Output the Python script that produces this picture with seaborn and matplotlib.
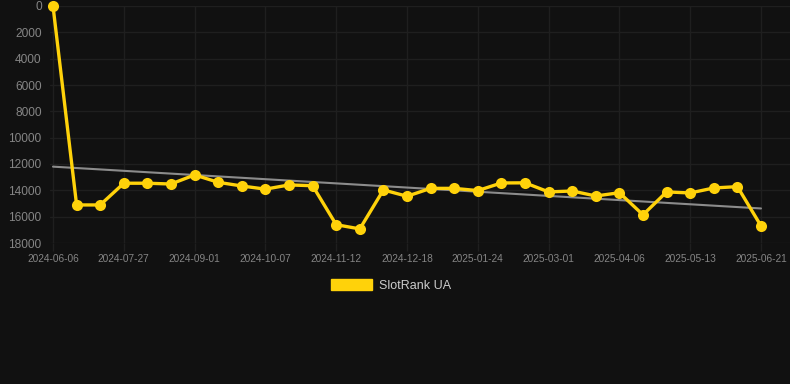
import matplotlib
matplotlib.use("Agg")
import matplotlib.pyplot as plt
from matplotlib.patches import Patch
import seaborn as sns
import numpy as np
import pandas as pd

dates = ["2024-06-06", "2024-06-23", "2024-07-10", "2024-07-27", "2024-08-08",
         "2024-08-20", "2024-09-01", "2024-09-13", "2024-09-25", "2024-10-07",
         "2024-10-19", "2024-10-31", "2024-11-12", "2024-11-24", "2024-12-06",
         "2024-12-18", "2024-12-30", "2025-01-11", "2025-01-24", "2025-02-05",
         "2025-02-17", "2025-03-01", "2025-03-13", "2025-03-25", "2025-04-06",
         "2025-04-18", "2025-04-30", "2025-05-13", "2025-05-25", "2025-06-06",
         "2025-06-21"]
ranks = [0, 15110, 15110, 13460, 13460, 13520, 12830, 13390, 13670, 13910,
         13590, 13650, 16610, 16930, 13970, 14450, 13850, 13850, 14020, 13440,
         13430, 14120, 14050, 14430, 14180, 15860, 14120, 14200, 13820, 13720,
         16700]
series_name = "SlotRank UA"
yticks = [0, 2000, 4000, 6000, 8000, 10000, 12000, 14000, 16000, 18000]

df = pd.DataFrame({"idx": np.arange(len(dates)), "date": dates, "rank": ranks})

sns.set_theme(style="dark")
plt.rcParams["font.family"] = ["Liberation Sans", "DejaVu Sans"]

bg = "#111111"
grid_c = "#1f1f1f"
tick_c = "#858585"
gold = "#FFD20A"

fig = plt.figure(figsize=(7.9, 3.84), dpi=100, facecolor=bg)
ax = fig.add_axes([50 / 790, 1 - 243 / 384, 740 / 790, 237 / 384])
ax.set_facecolor(bg)

# trend line (linear fit)
coef = np.polyfit(df["idx"], df["rank"], 1)
trend = np.polyval(coef, df["idx"])
ax.plot(df["idx"], trend, color="#8c8c8c", lw=1.5, zorder=2)

sns.lineplot(data=df, x="idx", y="rank", ax=ax, color=gold, lw=2.4,
             marker="o", markersize=8, markeredgewidth=0, zorder=3,
             clip_on=False, legend=False)

ax.set_xlim(-3 / 23.6, 30 + 29 / 23.6)
ax.set_ylim(18000, 0)
ax.set_yticks(yticks)
ax.set_yticklabels([str(v) for v in yticks])
ax.set_xticks(df["idx"][::3])
ax.set_xticklabels(df["date"][::3])
ax.tick_params(axis="y", colors=tick_c, labelsize=8.6, length=0, pad=6)
ax.tick_params(axis="x", colors=grid_c, labelcolor=tick_c, labelsize=7.3,
               length=6, width=1, pad=2, bottom=True)
ax.grid(True, color=grid_c, lw=1)
ax.set_xlabel("")
ax.set_ylabel("")
for s in ax.spines.values():
    s.set_visible(False)

handle = Patch(facecolor=gold, edgecolor=gold, label=series_name)
leg = fig.legend(handles=[handle], loc="center", bbox_to_anchor=(391 / 790, 1 - 285.5 / 384),
                 frameon=False, fontsize=9, handlelength=3.3, handleheight=0.9,
                 handletextpad=0.6)
for t in leg.get_texts():
    t.set_color("#cccccc")

fig.savefig("out.png", dpi=100, facecolor=bg)
